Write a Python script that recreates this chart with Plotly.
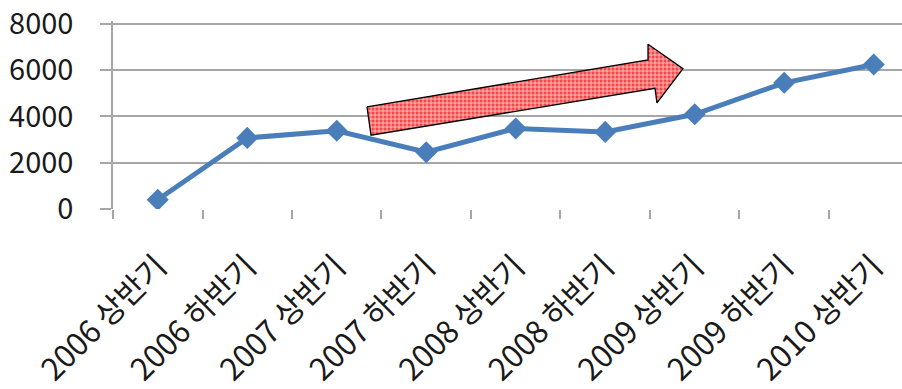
import plotly.graph_objects as go

# Half-year periods and their values
periods = ["2006 상반기", "2006 하반기", "2007 상반기", "2007 하반기", "2008 상반기",
           "2008 하반기", "2009 상반기", "2009 하반기", "2010 상반기"]
values = [400, 3070, 3380, 2450, 3480, 3330, 4090, 5450, 6240]

y_ticks = [0, 2000, 4000, 6000, 8000]

# Trend arrow outline (x in period index units, y in value units)
arrow_x = [2.338, 5.478, 5.478, 5.869, 5.578, 5.556, 2.383, 2.338]
arrow_y = [4412, 6438, 7114, 6058, 4581, 5214, 3188, 4412]

FONT = "Noto Sans CJK KR, Malgun Gothic, sans-serif"
GRID = "#a6a6a6"
BLUE = "#4a7ebb"

idx = list(range(len(periods)))

fig = go.Figure()

fig.add_trace(go.Scatter(
    x=idx, y=values, mode="lines+markers",
    line=dict(color=BLUE, width=5),
    marker=dict(symbol="diamond", size=17, color=BLUE),
    hoverinfo="skip", showlegend=False,
))

fig.add_trace(go.Scatter(
    x=arrow_x, y=arrow_y, mode="lines", fill="toself",
    line=dict(color="black", width=1.3),
    fillcolor="#f45858",
    fillpattern=dict(shape="+", fgcolor="#ffd6d6", bgcolor="#f44848",
                     size=4, solidity=0.35, fillmode="replace"),
    hoverinfo="skip", showlegend=False,
))

fig.update_layout(
    width=902, height=389,
    margin=dict(l=113, r=0, t=17, b=180),
    paper_bgcolor="white", plot_bgcolor="white",
    font=dict(family=FONT, size=29, color="#1a1a1a"),
    xaxis=dict(
        range=[-0.5, 8.316],
        tickvals=idx, ticktext=periods, tickangle=-45,
        ticks="", showgrid=False, zeroline=False,
        showline=False,
        tickfont=dict(family=FONT, size=31),
        ticklabelstandoff=32,
        minor=dict(tick0=0.5, dtick=1, ticks="outside", ticklen=9,
                   tickcolor=GRID, tickwidth=1.5, showgrid=False),
    ),
    yaxis=dict(
        range=[0, 8120], tickvals=y_ticks,
        showgrid=True, gridcolor=GRID, gridwidth=1.5,
        zeroline=False, showline=True, linecolor=GRID, linewidth=1.5,
        ticks="outside", ticklen=11, tickcolor=GRID, tickwidth=1.5,
        ticklabelstandoff=21, ticklabeloverflow="allow",
        tickfont=dict(family=FONT, size=29),
    ),
)

fig.write_html("out.html")
